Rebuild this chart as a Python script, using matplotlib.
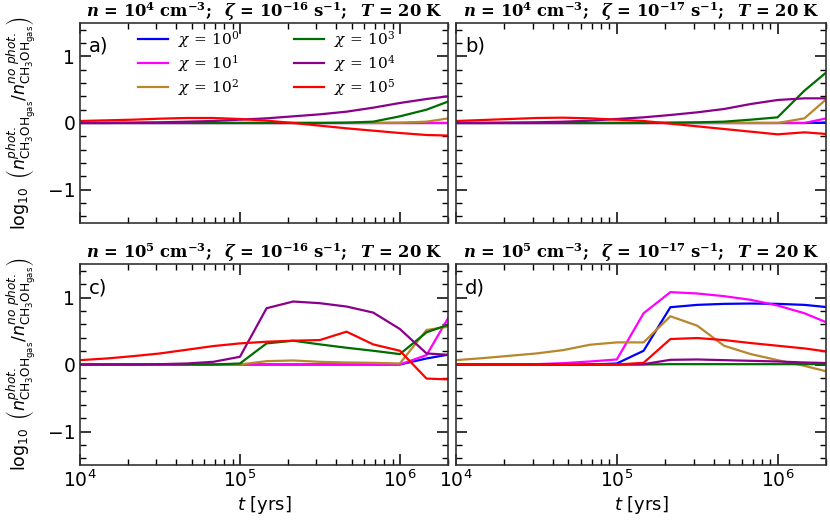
import matplotlib
matplotlib.use("Agg")
import matplotlib.pyplot as plt
from matplotlib.ticker import MultipleLocator, LogLocator, NullFormatter
import numpy as np

plt.rcParams['font.family'] = ['DejaVu Sans']
plt.rcParams['mathtext.fontset'] = 'dejavusans'

# time grid (yrs)
t = [1e4, 1.468e4, 2.154e4, 3.162e4, 4.642e4, 6.813e4, 1e5, 1.468e5, 2.154e5,
     3.162e5, 4.642e5, 6.813e5, 1e6, 1.468e6, 2.154e6]

labels = [r'$\chi\,=\,10^0$', r'$\chi\,=\,10^1$', r'$\chi\,=\,10^2$',
          r'$\chi\,=\,10^3$', r'$\chi\,=\,10^4$', r'$\chi\,=\,10^5$']
colors = ['#0000ff', '#ff00ff', '#b8862b', '#006d00', '#8b008b', '#ff0000']

titles = [r'$\boldsymbol{n}\,\mathbf{=\,10^4\ cm^{-3};\ \ }\boldsymbol{\zeta}\,\mathbf{=\,10^{-16}\ s^{-1};\ \ }\boldsymbol{T}\,\mathbf{=\,20\ K}$',
          r'$\boldsymbol{n}\,\mathbf{=\,10^4\ cm^{-3};\ \ }\boldsymbol{\zeta}\,\mathbf{=\,10^{-17}\ s^{-1};\ \ }\boldsymbol{T}\,\mathbf{=\,20\ K}$',
          r'$\boldsymbol{n}\,\mathbf{=\,10^5\ cm^{-3};\ \ }\boldsymbol{\zeta}\,\mathbf{=\,10^{-16}\ s^{-1};\ \ }\boldsymbol{T}\,\mathbf{=\,20\ K}$',
          r'$\boldsymbol{n}\,\mathbf{=\,10^5\ cm^{-3};\ \ }\boldsymbol{\zeta}\,\mathbf{=\,10^{-17}\ s^{-1};\ \ }\boldsymbol{T}\,\mathbf{=\,20\ K}$']
panel_tags = ['a)', 'b)', 'c)', 'd)']

# panel a
a_chi0 = [0, 0, 0, 0, 0, 0, 0, 0, 0, 0, 0, 0, 0, 0, 0]
a_chi1 = [0, 0, 0, 0, 0, 0, 0, 0, 0, 0, 0, 0, 0, 0, 0]
a_chi2 = [0, 0, 0, 0, 0, 0, 0, 0, 0, 0, 0, 0, 0.005, 0.02, 0.08]
a_chi3 = [0, 0, 0, 0, 0, 0, 0, 0, 0, 0, 0.005, 0.02, 0.1, 0.2, 0.35]
a_chi4 = [0, 0, 0.005, 0.01, 0.02, 0.03, 0.05, 0.07, 0.1, 0.13, 0.17, 0.23, 0.3, 0.36, 0.41]
a_chi5 = [0.03, 0.04, 0.05, 0.065, 0.075, 0.075, 0.06, 0.035, 0.0, -0.04, -0.08, -0.115, -0.15, -0.18, -0.19]

# panel b
b_chi0 = [0, 0, 0, 0, 0, 0, 0, 0, 0, 0, 0, 0, 0, 0, 0.01]
b_chi1 = [0, 0, 0, 0, 0, 0, 0, 0, 0, 0, 0, 0, 0, 0, 0.085]
b_chi2 = [0, 0, 0, 0, 0, 0, 0, 0, 0, 0, 0, 0, 0, 0.07, 0.42]
b_chi3 = [0, 0, 0, 0, 0, 0, 0, 0, 0.005, 0.01, 0.02, 0.05, 0.085, 0.485, 0.82]
b_chi4 = [0, 0, 0.005, 0.01, 0.02, 0.035, 0.06, 0.085, 0.12, 0.16, 0.21, 0.285, 0.345, 0.37, 0.37]
b_chi5 = [0.03, 0.045, 0.06, 0.075, 0.08, 0.07, 0.05, 0.03, -0.01, -0.05, -0.09, -0.13, -0.17, -0.14, -0.17]

# panel c
c_chi0 = [0, 0, 0, 0, 0, 0, 0, 0, 0, 0, 0, 0, 0, 0.09, 0.16]
c_chi1 = [0, 0, 0, 0, 0, 0, 0, 0, 0, 0, 0, 0, 0, 0.14, 0.82]
c_chi2 = [0, 0, 0, 0, 0, 0, 0, 0.05, 0.06, 0.04, 0.03, 0.025, 0.015, 0.515, 0.575]
c_chi3 = [0, 0, 0, 0, 0, 0, 0.015, 0.315, 0.355, 0.3, 0.25, 0.205, 0.155, 0.48, 0.62]
c_chi4 = [0, 0, 0, 0.005, 0.015, 0.04, 0.115, 0.84, 0.94, 0.915, 0.865, 0.775, 0.53, 0.165, 0.14]
c_chi5 = [0.065, 0.09, 0.125, 0.165, 0.22, 0.275, 0.315, 0.34, 0.355, 0.365, 0.49, 0.3, 0.205, -0.21, -0.225]

# panel d
d_chi0 = [0, 0, 0, 0, 0, 0, 0.015, 0.205, 0.855, 0.89, 0.905, 0.91, 0.905, 0.89, 0.85]
d_chi1 = [0, 0, 0, 0.005, 0.02, 0.045, 0.075, 0.765, 1.08, 1.06, 1.02, 0.965, 0.88, 0.765, 0.6]
d_chi2 = [0.065, 0.095, 0.13, 0.165, 0.215, 0.295, 0.33, 0.33, 0.72, 0.58, 0.28, 0.155, 0.065, -0.02, -0.12]
d_chi3 = [0, 0, 0, 0, 0, 0, 0, 0, 0.005, 0.005, 0.005, 0.005, 0.005, 0.005, 0.005]
d_chi4 = [0, 0, 0, 0, 0, 0, 0, 0.005, 0.07, 0.075, 0.065, 0.055, 0.045, 0.03, 0.02]
d_chi5 = [0, 0, 0, 0, 0, 0, 0, 0.025, 0.38, 0.395, 0.365, 0.32, 0.28, 0.24, 0.185]

panels = [
    [a_chi0, a_chi1, a_chi2, a_chi3, a_chi4, a_chi5],
    [b_chi0, b_chi1, b_chi2, b_chi3, b_chi4, b_chi5],
    [c_chi0, c_chi1, c_chi2, c_chi3, c_chi4, c_chi5],
    [d_chi0, d_chi1, d_chi2, d_chi3, d_chi4, d_chi5],
]

W, H = 830, 523
fig = plt.figure(figsize=(W / 100, H / 100), dpi=100)

rects = [
    (80, 23, 448, 223),
    (456, 23, 826, 223),
    (80, 264, 448, 465),
    (456, 264, 826, 465),
]

ylabel = r'$\log_{10}\ \left(n^{phot.}_{\mathrm{CH_3OH_{gas}}}/n^{no\ phot.}_{\mathrm{CH_3OH_{gas}}}\right)$'

axes = []
for i, (l, tp, r, b) in enumerate(rects):
    ax = fig.add_axes([l / W, 1 - b / H, (r - l) / W, (b - tp) / H])
    axes.append(ax)
    for series, c, lab in zip(panels[i], colors, labels):
        ax.plot(t, series, color=c, lw=1.6, label=lab)
    ax.set_xscale('log')
    ax.set_xlim(1e4, 2e6)
    ax.set_ylim(-1.5, 1.5)
    ax.yaxis.set_major_locator(MultipleLocator(1))
    ax.yaxis.set_minor_locator(MultipleLocator(0.2))
    ax.xaxis.set_major_locator(LogLocator(base=10, numticks=10))
    ax.xaxis.set_minor_locator(LogLocator(base=10, subs=np.arange(2, 10), numticks=20))
    ax.xaxis.set_minor_formatter(NullFormatter())
    ax.tick_params(which='both', direction='in', top=True, right=True, labelsize=13.5)
    ax.tick_params(which='major', length=8, width=1.1)
    ax.tick_params(which='minor', length=4, width=1.0)
    for s in ax.spines.values():
        s.set_linewidth(1.2)
        s.set_color('#333333')
    ax.set_title(titles[i], fontsize=11.8, pad=3, math_fontfamily='dejavuserif')
    ax.text(0.025, 0.93, panel_tags[i], transform=ax.transAxes, fontsize=14, va='top', ha='left')
    if i in (0, 2):
        ax.set_ylabel(ylabel, fontsize=12.5, va='center')
        ax.yaxis.set_label_coords(-0.158, 0.5)
    else:
        ax.tick_params(labelleft=False)
    if i in (2, 3):
        ax.set_xlabel(r'$t$ [yrs]', fontsize=13, labelpad=2)
    else:
        ax.tick_params(labelbottom=False)

leg = axes[0].legend(ncol=2, frameon=False, loc='upper left', bbox_to_anchor=(0.12, 1.04),
                     fontsize=11, handlelength=2.0, columnspacing=3.6, labelspacing=0.2,
                     handletextpad=0.6)
for txt in leg.get_texts():
    txt.set_math_fontfamily('dejavuserif')

fig.savefig('out.png', dpi=100)
